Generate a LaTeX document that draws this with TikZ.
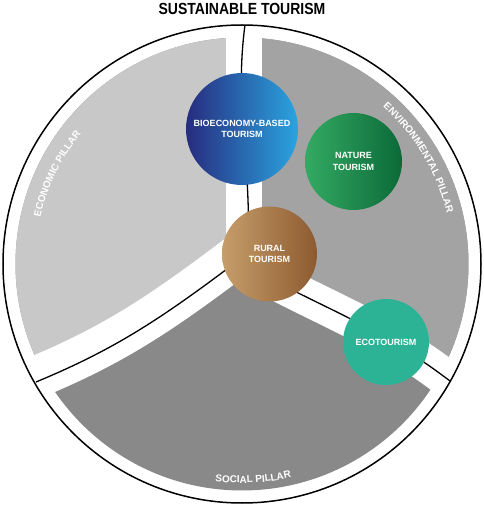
\documentclass[tikz,border=0pt]{standalone}
\usepackage{fontspec}
\setmainfont{Liberation Sans}
\usetikzlibrary{decorations.text}
\definecolor{econc}{HTML}{C8C8C8}
\definecolor{envc}{HTML}{A3A3A3}
\definecolor{socc}{HTML}{898989}
\definecolor{bioL}{HTML}{272C7E}
\definecolor{bioR}{HTML}{2AA4E0}
\definecolor{natL}{HTML}{34AA63}
\definecolor{natR}{HTML}{0B6A38}
\definecolor{rurL}{HTML}{C69E6A}
\definecolor{rurR}{HTML}{8D5A30}
\definecolor{ecoc}{HTML}{2CB395}
\newcommand\pillarfont{\fontsize{10}{12}\selectfont\bfseries}
\begin{document}
\begin{tikzpicture}[x=1pt,y=1pt,
  divider/.style={black, line width=1.3pt},
  whiteband/.style={draw=white, line width=#1},
  bubble/.style={circle, inner sep=0pt, text=white, align=center,
    font=\fontsize{9}{11.5}\selectfont\bfseries},
  pillar/.style={decorate, decoration={text along path, text align=center,
    text color=white, text={|\pillarfont|#1}}}]
\useasboundingbox (0,0) rectangle (484,507);
\coordinate (C) at (242,243);
% sector fills
\fill[socc] (C) circle[radius=226.5];
\begin{scope}
\clip (C) circle[radius=226.5];
\fill[econc] (235,244) -- (244,245) -- (244,520) -- (-20,520) -- (-20,101) -- (36,125)
  .. controls (113,157) and (158,186) .. (235,244) -- cycle;
\fill[envc] (244,245) -- (244,520) -- (520,520) -- (520,73) -- (450,126)
  .. controls (380,179) and (337,193) .. (267,230) -- cycle;
\end{scope}
% white bands
\fill[white] (226,240) rectangle (262,500);
\draw[whiteband=42] (249,260) -- (233,248) .. controls (156,190) and (111,161) .. (34,129);
\draw[whiteband=37] (250,239) -- (267,230) .. controls (337,193) and (380,179) .. (450,126);
% dividers
\draw[divider] (245,482) .. controls (234,400) and (252,350) .. (248,245);
\draw[divider] (235,244) .. controls (158,186) and (113,157) .. (36,125);
\draw[divider] (267,230) .. controls (337,193) and (380,179) .. (450,126);
% outer circle
\draw[line width=1.5pt] (C) circle[radius=239];
% bubbles
\node[bubble, minimum size=112pt, left color=bioL, right color=bioR] (bio) at (242,378) {BIOECONOMY-BASED\\TOURISM};
\node[bubble, minimum size=97pt, left color=natL, right color=natR] (nat) at (353.5,345.5) {NATURE\\TOURISM};
\node[bubble, minimum size=95pt, left color=rurL, right color=rurR] (rur) at (269.5,253) {RURAL\\TOURISM};
\node[bubble, minimum size=86pt, fill=ecoc] (eco) at (386,165) {ECOTOURISM};
% pillar labels
\path[pillar=ECONOMIC PILLAR] ([shift={(178:207)}]C) arc[start angle=178, end angle=130, radius=207];
\path[pillar=ENVIRONMENTAL PILLAR] ([shift={(55:211)}]C) arc[start angle=55, end angle=7, radius=211];
\path[pillar=SOCIAL PILLAR] ([shift={(250:219)}]C) arc[start angle=250, end angle=296, radius=219];
% title
\node[inner sep=0pt] (title) at (242,498) {\scalebox{1}[1.15]{\fontsize{14}{16}\selectfont\bfseries SUSTAINABLE TOURISM}};
\end{tikzpicture}
\end{document}
